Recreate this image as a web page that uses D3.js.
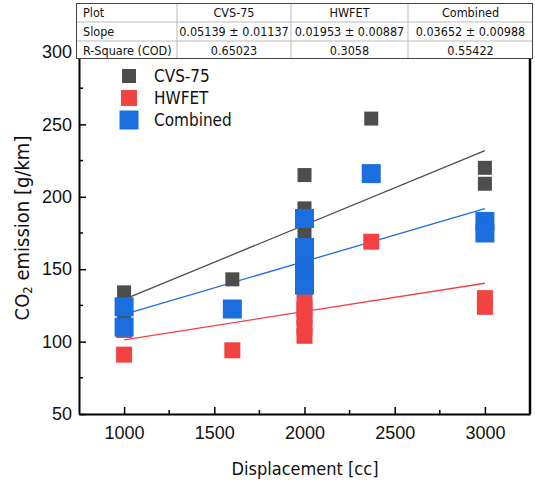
<!DOCTYPE html>
<html>
<head>
<meta charset="utf-8">
<script src="https://cdn.jsdelivr.net/npm/d3@7"></script>
<style>
  body { margin: 0; background: #fff; }
  svg { font-family: "DejaVu Sans Condensed", "DejaVu Sans", sans-serif; font-stretch: condensed; }
  .axis path, .axis line { stroke: #000; }
  .axis text { fill: #111; font-size: 18px; }
</style>
</head>
<body>
<svg id="chart" width="535" height="482"></svg>
<script>
// series names and colours
const seriesNames = ["CVS-75", "HWFET", "Combined"];
const seriesColors = ["#4d4d4d", "#f24242", "#1a6ede"];
const markerSizes = [14, 16, 19];

// measured points (displacement cc, CO2 g/km)
const cvsX = [1000, 1000, 1600, 2000, 2000, 2000, 2000, 2370, 3000, 3000];
const cvsY = [134, 118, 143, 215, 192, 174, 162, 254, 220, 209];
const hwfetX = [1000, 1000, 1600, 2000, 2000, 2000, 2000, 2000, 2370, 3000, 3000];
const hwfetY = [91, 108, 94, 104, 110, 117, 122, 128, 169, 130, 124];
const combX = [1000, 1000, 1600, 2000, 2000, 2000, 2000, 2000, 2370, 3000, 3000];
const combY = [124, 110, 122.5, 185, 165, 152, 146, 139, 216, 183, 175];

// linear fits
const fitSlope = [0.05139, 0.01953, 0.03652];
const fitIntercept = [77.7, 81.7, 82.3];
const fitRange = [1000, 3000];

// table texts
const tableHeader = ["Plot", "CVS-75", "HWFET", "Combined"];
const slopeRow = ["Slope", "0.05139 ± 0.01137", "0.01953 ± 0.00887", "0.03652 ± 0.00988"];
const r2Row = ["R-Square (COD)", "0.65023", "0.3058", "0.55422"];

// axis ticks
const xTicks = [1000, 1500, 2000, 2500, 3000];
const xMinor = [1250, 1750, 2250, 2750];
const yTicks = [50, 100, 150, 200, 250, 300];
const yMinor = [75, 125, 175, 225, 275];

const svg = d3.select("#chart");

let x = d3.scaleLinear().domain([750, 3250]).range([79, 530]);
let y = d3.scaleLinear().domain([50, 310]).range([414, 37.5]);

// fit lines first, points cover them
for (let i = 0; i < 3; i++) {
    let line = d3.line()
        .x(function(d){ return x(d); })
        .y(function(d){ return y(fitIntercept[i] + fitSlope[i] * d); });
    svg.append("path")
        .datum(fitRange)
        .attr("d", line)
        .attr("fill", "none")
        .attr("stroke", seriesColors[i])
        .attr("stroke-width", 1.3);
}

const pointSets = [[cvsX, cvsY], [hwfetX, hwfetY], [combX, combY]];
pointSets.forEach(function(set, i){
    let pts = set[0].map(function(v, j){ return {x: v, y: set[1][j]}; });
    let s = markerSizes[i];
    svg.append("g").selectAll("rect")
        .data(pts)
        .enter().append("rect")
        .attr("x", function(d){ return x(d.x) - s / 2; })
        .attr("y", function(d){ return y(d.y) - s / 2; })
        .attr("width", s)
        .attr("height", s)
        .attr("fill", seriesColors[i]);
});

// axes
let xAxis = d3.axisBottom(x).tickValues(xTicks).tickFormat(d3.format("d"))
    .tickSize(-7).tickSizeOuter(0).tickPadding(12);
let yAxis = d3.axisLeft(y).tickValues(yTicks).tickFormat(d3.format("d"))
    .tickSize(-7).tickSizeOuter(0).tickPadding(7);

let gx = svg.append("g").attr("class", "axis")
    .attr("transform", "translate(0,414)")
    .call(xAxis);
gx.select(".domain").attr("stroke-width", 2);
gx.selectAll(".tick line").attr("stroke-width", 1.5);
gx.selectAll(".minor").data(xMinor).enter().append("line")
    .attr("x1", function(d){ return x(d); }).attr("x2", function(d){ return x(d); })
    .attr("y1", 0).attr("y2", -4).attr("stroke", "#000").attr("stroke-width", 1.5);

let gy = svg.append("g").attr("class", "axis")
    .attr("transform", "translate(79,0)")
    .call(yAxis);
gy.select(".domain").attr("stroke-width", 2);
gy.selectAll(".tick line").attr("stroke-width", 1.5);
gy.selectAll(".minor").data(yMinor).enter().append("line")
    .attr("y1", function(d){ return y(d); }).attr("y2", function(d){ return y(d); })
    .attr("x1", 0).attr("x2", 4).attr("stroke", "#000").attr("stroke-width", 1.5);

// right frame
svg.append("line")
    .attr("x1", 530).attr("x2", 530)
    .attr("y1", y(310)).attr("y2", y(50))
    .attr("stroke", "#000").attr("stroke-width", 2.5);
svg.append("line")
    .attr("x1", 79).attr("x2", 530)
    .attr("y1", y(310)).attr("y2", y(310))
    .attr("stroke", "#000").attr("stroke-width", 2);

// axis titles
svg.append("text")
    .attr("x", 305).attr("y", 475)
    .attr("text-anchor", "middle")
    .attr("font-size", 18)
    .attr("fill", "#111")
    .text("Displacement [cc]");

let yt = svg.append("text")
    .attr("transform", "translate(29,228) rotate(-90)")
    .attr("text-anchor", "middle")
    .attr("font-size", 20)
    .attr("fill", "#111");
yt.append("tspan").text("CO");
yt.append("tspan").attr("font-size", 13).attr("dy", 3).text("2");
yt.append("tspan").attr("dy", -3).text(" emission [g/km]");

// legend
seriesNames.forEach(function(name, i){
    let cy = 76 + i * 22;
    let s = markerSizes[i];
    svg.append("rect")
        .attr("x", 129 - s / 2).attr("y", cy - s / 2)
        .attr("width", s).attr("height", s)
        .attr("fill", seriesColors[i]);
    svg.append("text")
        .attr("x", 154).attr("y", cy + 6)
        .attr("font-size", 17)
        .attr("fill", "#111")
        .text(name);
});

// stats table
const colEdges = [76, 177, 291, 408, 533];
const rowEdges = [3, 22, 41, 59];
const rows = [tableHeader, slopeRow, r2Row];
let tbl = svg.append("g");
tbl.append("rect")
    .attr("x", colEdges[0]).attr("y", rowEdges[0])
    .attr("width", colEdges[4] - colEdges[0]).attr("height", rowEdges[3] - rowEdges[0])
    .attr("fill", "#fff");
for (let c = 1; c < 4; c++) {
    tbl.append("line").attr("x1", colEdges[c]).attr("x2", colEdges[c])
        .attr("y1", rowEdges[0]).attr("y2", rowEdges[3]).attr("stroke", "#bbb");
}
for (let r = 1; r < 3; r++) {
    tbl.append("line").attr("x1", colEdges[0]).attr("x2", colEdges[4])
        .attr("y1", rowEdges[r]).attr("y2", rowEdges[r]).attr("stroke", "#bbb");
}
tbl.append("rect")
    .attr("x", colEdges[0] + 0.5).attr("y", rowEdges[0] + 0.5)
    .attr("width", colEdges[4] - colEdges[0] - 1).attr("height", rowEdges[3] - rowEdges[0] - 1)
    .attr("fill", "none").attr("stroke", "#444");
rows.forEach(function(row, r){
    row.forEach(function(txt, c){
        let cx = c === 0 ? colEdges[0] + 7 : (colEdges[c] + colEdges[c + 1]) / 2;
        tbl.append("text")
            .attr("x", cx)
            .attr("y", (rowEdges[r] + rowEdges[r + 1]) / 2 + 4.5)
            .attr("text-anchor", c === 0 ? "start" : "middle")
            .attr("font-size", 12.5)
            .attr("fill", "#111")
            .text(txt);
    });
});
</script>
</body>
</html>
